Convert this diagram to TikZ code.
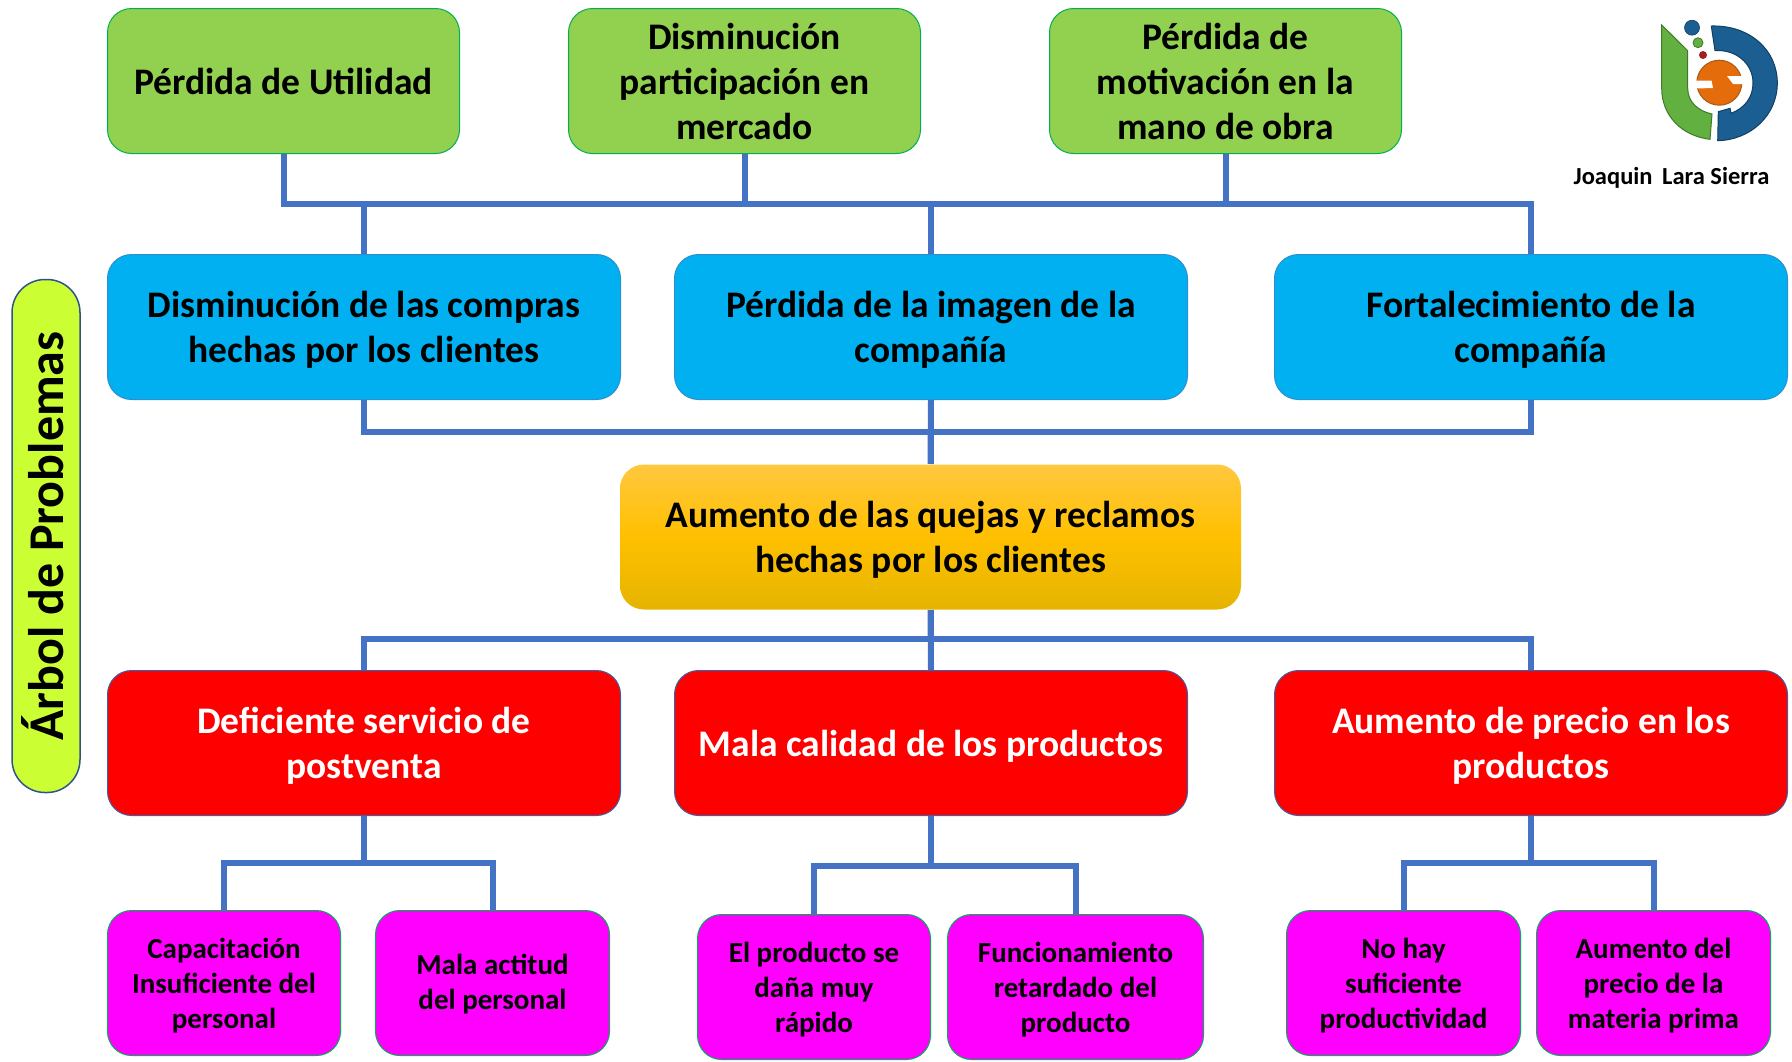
\documentclass[tikz,border=0pt]{standalone}
\usepackage{fontspec}
\setmainfont{Carlito}
\usetikzlibrary{calc}
\definecolor{linkblue}{HTML}{4472C4}
\definecolor{gfill}{HTML}{92D050}
\definecolor{gedge}{HTML}{00B050}
\definecolor{bfill}{HTML}{00B0F0}
\definecolor{bedge}{HTML}{2E8FD0}
\definecolor{redge}{HTML}{3A62A8}
\definecolor{sideedge}{HTML}{2F528F}
\definecolor{mfill}{HTML}{FF00FF}
\definecolor{lime}{HTML}{CCFF33}
\definecolor{otop}{HTML}{FFC83F}
\definecolor{omid}{HTML}{FFC000}
\definecolor{obot}{HTML}{E5B400}
\definecolor{logoblue}{HTML}{1B5E91}
\definecolor{logobluedark}{HTML}{123F62}
\definecolor{logogreen}{HTML}{62B040}
\definecolor{logogreendark}{HTML}{3F7A2A}
\definecolor{logoorange}{HTML}{E46C0A}
\definecolor{logoorangedark}{HTML}{A85A1A}
\definecolor{logored}{HTML}{A02020}
\newcommand{\liftA}{\rule{0pt}{32pt}}
\newcommand{\liftD}{\rule{0pt}{31pt}}
\newcommand{\liftB}{\rule{0pt}{25.5pt}}
\newcommand{\liftC}{\rule{0pt}{23.5pt}}
\tikzset{
  x=1pt,y=-1pt,
  boxbase/.style={rounded corners=24pt,line width=1pt,align=center,font=\bfseries\fontsize{37.5}{45}\selectfont,inner sep=0pt,anchor=north west,minimum height=145pt},
  gbox/.style={boxbase,draw=gedge,fill=gfill,minimum width=352pt},
  bbox/.style={boxbase,draw=bedge,fill=bfill,minimum width=513pt},
  rbox/.style={boxbase,draw=redge,fill=red,text=white,minimum width=513pt},
  obox/.style={boxbase,top color=otop,bottom color=obot,middle color=omid,minimum width=621pt},
  mbox/.style={boxbase,draw=gedge,fill=mfill,font=\bfseries\fontsize{29}{35}\selectfont},
  conn/.style={draw=linkblue,line width=6pt,line join=miter},
  sidebox/.style={draw=sideedge,fill=lime,line width=1.5pt,rounded corners=33pt,minimum width=513pt,minimum height=68pt,inner sep=0pt,rotate=90,font=\bfseries\fontsize{50}{56}\selectfont},
  logotext/.style={font=\bfseries\fontsize{24.5}{28}\selectfont,inner sep=0pt},
  logopart/.style={line width=1pt},
}
\begin{document}
\begin{tikzpicture}
\useasboundingbox (0,0) rectangle (1792,1061);
\coordinate (busA) at (0,203.5);
\coordinate (busB) at (0,432);
\coordinate (busC) at (0,639);
\coordinate (busD) at (0,862.5);
\coordinate (busE) at (0,865.5);
% side label
\node[sidebox] (side) at (46,536) {\rule[-7pt]{0pt}{7pt}Árbol de Problemas};
% boxes
\node[gbox] (g1) at (107,8) {Pérdida de Utilidad};
\node[gbox] (g2) at (568,8) {Disminución\\participación en\\mercado};
\node[gbox] (g3) at (1049,8) {Pérdida de\\motivación en la\\mano de obra};
\node[bbox] (b1) at (107,254) {\liftD Disminución de las compras\\hechas por los clientes};
\node[bbox] (b2) at (674,254) {\liftD Pérdida de la imagen de la\\compañía};
\node[bbox] (b3) at (1274,254) {\liftD Fortalecimiento de la\\compañía};
\node[obox] (o) at (619.5,464) {\liftA Aumento de las quejas y reclamos\\hechas por los clientes};
\node[rbox] (r1) at (107,670) {\liftA Deficiente servicio de\\postventa};
\node[rbox] (r2) at (674,670) {\liftA Mala calidad de los productos};
\node[rbox] (r3) at (1274,670) {\liftA Aumento de precio en los\\productos};
\node[mbox,minimum width=233pt] (m1) at (107,910) {\liftB Capacitación\\Insuficiente del\\personal};
\node[mbox,minimum width=234pt] (m2) at (375,910) {\liftC Mala actitud\\del personal};
\node[mbox,minimum width=233pt] (m3) at (697,914) {\liftB El producto se\\daña muy\\rápido};
\node[mbox,minimum width=256pt] (m4) at (947,914) {\liftB Funcionamiento\\retardado del\\producto};
\node[mbox,minimum width=234pt] (m5) at (1286,910) {\liftB No hay\\suficiente\\productividad};
\node[mbox,minimum width=234pt] (m6) at (1536,910) {\liftB Aumento del\\precio de la\\materia prima};
% connectors
\draw[conn] (g1.south) -- (g1.south |- busA) -| (b3.north);
\draw[conn] (g1.south) -- (g1.south |- busA) -| (b1.north);
\draw[conn] (g2.south) -- (g2.south |- busA) -| (b2.north);
\draw[conn] (g3.south) -- (g3.south |- busA);
\draw[conn] (b1.south) -- (b1.south |- busB) -| (o.north);
\draw[conn] (b2.south) -- (o.north);
\draw[conn] (b3.south) -- (b3.south |- busB) -| (o.north);
\draw[conn] (o.south) -- (o.south |- busC) -| (r1.north);
\draw[conn] (o.south) -- (r2.north);
\draw[conn] (o.south) -- (o.south |- busC) -| (r3.north);
\draw[conn] (r1.south) -- (r1.south |- busD) -| (m1.north);
\draw[conn] (r1.south) -- (r1.south |- busD) -| (m2.north);
\draw[conn] (r2.south) -- (r2.south |- busE) -| (m3.north);
\draw[conn] (r2.south) -- (r2.south |- busE) -| (m4.north);
\draw[conn] (r3.south) -- (r3.south |- busD) -| (m5.north);
\draw[conn] (r3.south) -- (r3.south |- busD) -| (m6.north);
% logo
\draw[logopart,draw=logogreendark,fill=logogreen] (1661.7,25) -- (1687.7,50.7) -- (1687.7,88.3)
  .. controls (1687.7,102) and (1698,111) .. (1712,114) -- (1710,139.3)
  .. controls (1682,136) and (1661.7,116) .. (1661.7,88.3) -- cycle;
\draw[logopart,draw=logobluedark,fill=logoblue] (1711.3,26)
  .. controls (1750,25) and (1777.3,50) .. (1777.3,83)
  .. controls (1777.3,116) and (1750,140) .. (1717.7,140.7)
  -- (1718.3,111.7) -- (1730,108.3) -- (1731,113.3)
  .. controls (1745,108) and (1753,97) .. (1753,83)
  .. controls (1753,63) and (1735,49) .. (1715,50.7) -- cycle;
\fill[logoblue,draw=logobluedark,line width=.6pt] (1692,27.7) circle (7.5pt);
\fill[logogreen,draw=logogreendark,line width=.8pt] (1698,42.7) circle (5pt);
\fill[logored] (1703,55) circle (4pt);
\draw[logopart,draw=logoorangedark,fill=logoorange] (1719.3,82.7) circle (22.5pt);
\fill[white] (1696,80.5) -- (1711.5,80.5) -- (1713,88) -- (1696,88.5) -- cycle;
\fill[white] (1727,76) -- (1743,76) -- (1743,84) -- (1733,84) -- cycle;
\node[logotext] (author) at (1671.5,177.5) {Joaquin\, Lara Sierra};
\end{tikzpicture}
\end{document}
